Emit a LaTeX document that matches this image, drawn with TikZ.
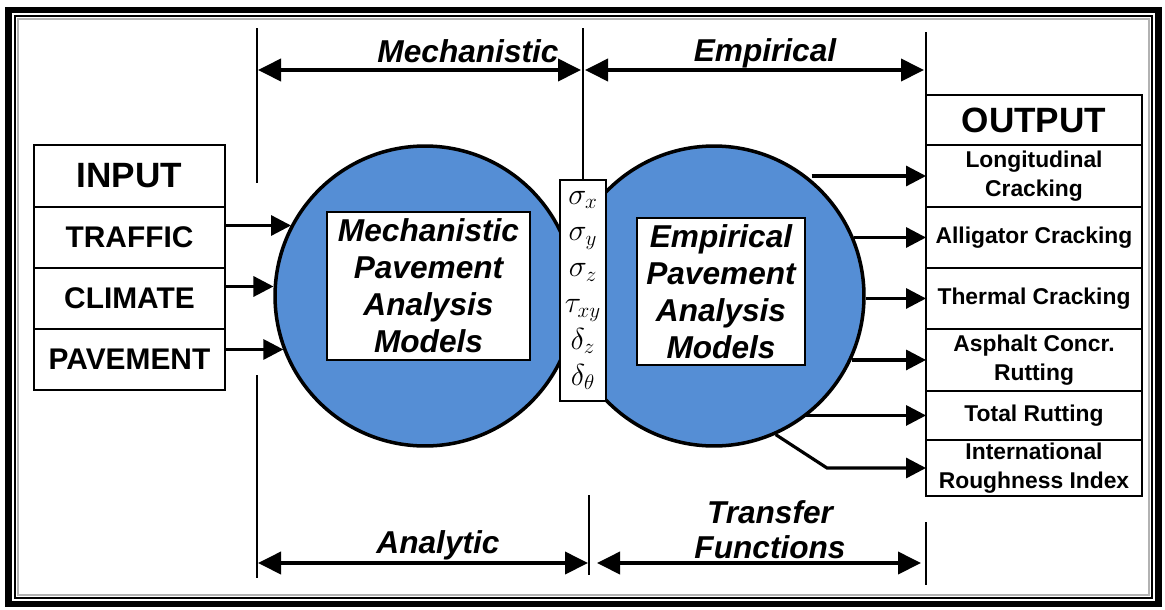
\documentclass[tikz,border=0pt]{standalone}
\usepackage{fontspec}
\setmainfont{Liberation Sans}
\usetikzlibrary{positioning,arrows.meta}

\definecolor{modelblue}{RGB}{85,142,213}

\tikzset{
  cell/.style={draw, line width=1.2pt, inner sep=0pt, outer sep=0pt, align=center},
  inrow/.style={cell, minimum width=3.82cm, minimum height=1.22cm,
    font=\bfseries\fontsize{17}{19}\selectfont},
  outrow/.style={cell, minimum width=4.32cm,
    font=\bfseries\fontsize{13}{16.5}\selectfont},
  head/.style={font=\bfseries\fontsize{20}{22}\selectfont},
  model/.style={draw, line width=2pt, fill=modelblue, circle, minimum size=6cm},
  modelbox/.style={draw, fill=white, line width=1pt, align=center, inner sep=0pt,
    font=\bfseries\itshape\fontsize{18}{21}\selectfont},
  tag/.style={align=center, font=\bfseries\itshape\fontsize{18}{20}\selectfont},
  spanarrow/.style={line width=2.2pt,
    {Triangle[length=0.46cm,width=0.44cm]}-{Triangle[length=0.46cm,width=0.44cm]}},
  feed/.style={line width=1.8pt, -{Triangle[length=0.4cm,width=0.4cm]}},
  guide/.style={line width=0.8pt}
}

\begin{document}
\begin{tikzpicture}[x=0.02cm, y=-0.02cm]
\useasboundingbox (0,0) rectangle (1165,609);

% frame
\draw[line width=3.8pt] (8.5,10) rectangle (1158.5,604);
\draw[line width=0.7pt] (15,16) rectangle (1152,598);
\draw[gray!60, line width=1.5pt] (18,19) rectangle (1149,595);

% the two models
\node[model] (lc) at (425,296) {};
\node[model] (rc) at (714,296) {};
\node[modelbox, minimum width=4.06cm, minimum height=2.96cm] (mech) at (428.5,286)
  {Mechanistic\\Pavement\\Analysis\\Models};
\node[modelbox, minimum width=3.36cm, minimum height=2.94cm] (emp) at (721,291.5)
  {Empirical\\Pavement\\Analysis\\Models};

% responses
\node[cell, line width=0.8pt, fill=white, minimum width=0.92cm, minimum height=4.42cm,
  font=\fontsize{17.5}{20.6}\selectfont] (sig) at (583,290.5)
  {$\sigma_x$\\$\sigma_y$\\$\sigma_z$\\$\tau_{xy}$\\$\delta_z$\\$\delta_\theta$};

% input
\node[inrow, head, minimum height=1.24cm] (input) at (129.5,176) {INPUT};
\node[inrow, below=0pt of input] (traffic) {TRAFFIC};
\node[inrow, below=0pt of traffic] (climate) {CLIMATE};
\node[inrow, below=0pt of climate] (pavement) {PAVEMENT};

% output
\node[outrow, head, minimum height=1.0cm] (output) at (1034,120) {OUTPUT};
\node[outrow, minimum height=1.24cm, below=0pt of output] (longit) {Longitudinal\\Cracking};
\node[outrow, minimum height=1.22cm, below=0pt of longit] (allig) {Alligator Cracking};
\node[outrow, minimum height=1.22cm, below=0pt of allig] (thermal) {Thermal Cracking};
\node[outrow, minimum height=1.24cm, below=0pt of thermal] (asphalt) {Asphalt Concr.\\Rutting};
\node[outrow, minimum height=0.98cm, below=0pt of asphalt] (total) {Total Rutting};
\node[outrow, minimum height=1.12cm, below=0pt of total] (iri) {International\\Roughness Index};

% inputs into the mechanistic model
\coordinate (tr) at ([yshift=0.24cm]traffic.east);
\coordinate (cl) at ([yshift=0.24cm]climate.east);
\coordinate (pv) at ([yshift=0.2cm]pavement.east);
\draw[feed] (tr) -- (tr -| lc.152);
\draw[feed] (cl) -- (cl -| lc.177);
\draw[feed] (pv) -- (pv -| lc.201);

% distresses out of the empirical model
\draw[feed] (rc.50 |- longit.west) -- (longit.west);
\draw[feed] (rc.23 |- allig.west) -- (allig.west);
\draw[feed] (rc.0 |- thermal.west) -- (thermal.west);
\draw[feed] (rc.-25 |- asphalt.west) -- (asphalt.west);
\draw[feed] (rc.-53 |- total.west) -- (total.west);
\coordinate (bend) at (827,468);
\draw[feed] (rc.-66) -- (bend) -- (bend -| iri.west);

% guide lines
\draw[guide] (257,28) -- (257,183);
\draw[guide] (sig.north) -- (583,28);
\draw[guide] (output.north west) -- ++(0,-63);
\draw[guide] (257,375) -- (257,578);
\draw[guide] (589,495) -- (589,575);
\draw[guide] (926,522) -- (926,585);

% spans
\coordinate (mechL) at (258,70);
\coordinate (mechR) at (581,70);
\coordinate (empL) at (585,70);
\coordinate (empR) at (924,70);
\coordinate (anaL) at (258,563);
\coordinate (anaR) at (588,563);
\coordinate (tfL) at (597,563);
\coordinate (tfR) at (921,563);
\draw[spanarrow] (mechL) -- (mechR);
\draw[spanarrow] (empL) -- (empR);
\draw[spanarrow] (anaL) -- (anaR);
\draw[spanarrow] (tfL) -- (tfR);

\node[tag] (mechtag) at (468,51) {Mechanistic};
\node[tag] (emptag) at (765,53) {Empirical};
\node[tag] (anatag) at (438,545) {Analytic};
\node[tag] (tftag) at (770,530) {Transfer\\Functions};
\end{tikzpicture}
\end{document}
